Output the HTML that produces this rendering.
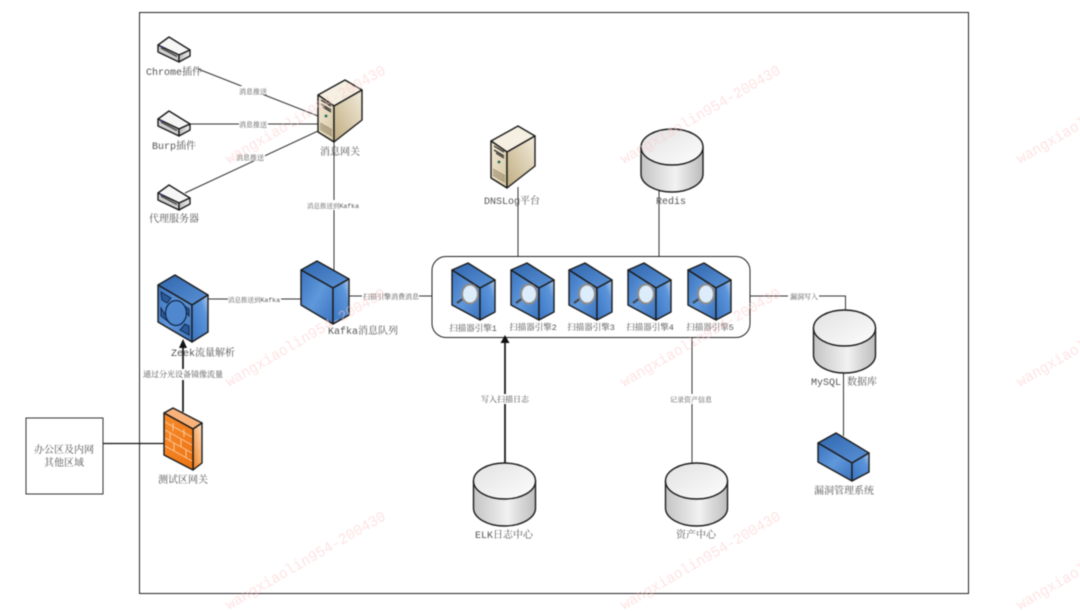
<!DOCTYPE html>
<html><head><meta charset="utf-8"><style>
html,body{margin:0;padding:0;background:#fff;width:1080px;height:611px;overflow:hidden}
svg{display:block;filter:blur(.45px)}
.l{font-family:"Liberation Mono","Noto Serif CJK SC",serif;fill:#555;text-anchor:middle}
.wm{font-family:"Liberation Mono",monospace;font-size:15px;fill:#ffc8c8;fill-opacity:.5}
.s{stroke:#1c1c1c;stroke-linejoin:round;stroke-width:1.4}
</style></head><body>
<svg width="1080" height="611" viewBox="0 0 1080 611" xmlns="http://www.w3.org/2000/svg">
<defs>
<linearGradient id="bf" x1="0" y1="0" x2="1" y2="1"><stop offset="0" stop-color="#3a72bd"/><stop offset=".5" stop-color="#6098dc"/><stop offset="1" stop-color="#3a72bd"/></linearGradient>
<linearGradient id="bt" x1="0" y1="0" x2="1" y2="1"><stop offset="0" stop-color="#2f66ae"/><stop offset="1" stop-color="#5b92d6"/></linearGradient>
<linearGradient id="br" x1="0" y1="1" x2="1" y2="0"><stop offset="0" stop-color="#3a75c2"/><stop offset=".7" stop-color="#5b94da"/><stop offset="1" stop-color="#b4d0f0"/></linearGradient>
<linearGradient id="tf" x1="0" y1="0" x2="1" y2="1"><stop offset="0" stop-color="#f3ead6"/><stop offset="1" stop-color="#d5c6a2"/></linearGradient>
<linearGradient id="tr" x1="0" y1="1" x2="1" y2="0"><stop offset="0" stop-color="#bfac80"/><stop offset="1" stop-color="#f3ecdc"/></linearGradient>
<linearGradient id="cy" x1="0" y1="0" x2="1" y2="0"><stop offset="0" stop-color="#c4c4c4"/><stop offset=".55" stop-color="#f2f2f2"/><stop offset="1" stop-color="#bcbcbc"/></linearGradient>
<linearGradient id="ct" x1="0" y1="0" x2="1" y2="1"><stop offset="0" stop-color="#e2e2e2"/><stop offset="1" stop-color="#fdfdfd"/></linearGradient>
<linearGradient id="of" x1="0" y1="0" x2="1" y2="1"><stop offset="0" stop-color="#f58a2c"/><stop offset="1" stop-color="#ef7412"/></linearGradient>
<linearGradient id="or" x1="0" y1="1" x2="1" y2="0"><stop offset="0" stop-color="#f07c1c"/><stop offset="1" stop-color="#fde2c6"/></linearGradient>
<linearGradient id="dv" x1="0" y1="0" x2="1" y2="0"><stop offset="0" stop-color="#bbb"/><stop offset="1" stop-color="#f0f0f0"/></linearGradient>

<g id="srv">
<path class="s" d="M0 15 L27 0 L44 10 L16 26Z" fill="#f6f0e2"/>
<path class="s" d="M0 15 L16 26 L16 62 L0 52Z" fill="url(#tf)"/>
<path class="s" d="M16 26 L44 10 L44 40 L16 62Z" fill="url(#tr)"/>
<path d="M3 20 L13 26 M3 24 L13 30 M5 27 L13 32" stroke="#222" stroke-width="1.2"/>
<circle cx="8" cy="36" r="1.4" fill="#1f6a55"/>
<path d="M2 43 L14 50 M2 45 L14 52 M2 47 L14 54 M2 49 L14 56" stroke="#6a5a3a" stroke-width=".7"/>
</g>

<g id="dev">
<path class="s" d="M0 8 L11 0 L32 13 L21 18Z" fill="#f6f6f6"/>
<path class="s" d="M0 8 L21 18 L21 25 L0 15Z" fill="#cfcfcf"/>
<path d="M3 11 L19 19.500" stroke="#444" stroke-width="1.4"/>
<path class="s" d="M21 18 L32 13 L32 19 L21 25Z" fill="url(#dv)"/>
<circle cx="3.500" cy="10" r="1" fill="#34349a"/>
</g>

<g id="scan">
<path class="s" d="M0 7 L16 0 L43 17 L28 25Z" fill="url(#bt)"/>
<path class="s" d="M0 7 L28 25 L28 57 L0 42Z" fill="url(#bf)"/>
<path class="s" d="M28 25 L43 17 L43 49 L28 57Z" fill="url(#br)"/>
<path d="M5 40 L12 35" stroke="#444" stroke-width="2"/>
<ellipse cx="18" cy="31" rx="8" ry="9.500" fill="#dcecfb" stroke="#8c8c8c" stroke-width="2"/>
</g>

<g id="cyl">
<path class="s" d="M0 18 V45 A31 18 0 0 0 62 45 V18Z" fill="url(#cy)"/>
<ellipse class="s" cx="31" cy="18" rx="31" ry="18" fill="url(#ct)"/>
</g>
</defs>

<rect x="139.500" y="12.500" width="829" height="581" fill="none" stroke="#222" stroke-width="1"/>

<!-- connectors -->
<g fill="none" stroke="#333" stroke-width="1">
<path d="M198 69 L318 116"/>
<path d="M190 124 H318"/>
<path d="M185 193 L318 131"/>
<path d="M334 142 V270"/>
<path d="M208 299 H301"/>
<path d="M349 296 H432"/>
<path d="M518 187 V256"/>
<path d="M659 190 V256"/>
<path d="M750 296 H845.500 V311"/>
<path d="M843.500 370 V436"/>
<path d="M692 337 V463"/>
</g>
<path d="M505 463 V343" stroke="#111" stroke-width="1.700"/>
<path d="M183 412 V346" stroke="#111" stroke-width="1.700"/>
<path d="M183 339 L187 348 L179 348Z" fill="#111"/>
<path d="M103 443.500 H165" stroke="#111" stroke-width="1.300"/>

<!-- connector labels -->
<g fill="#fff">
<rect x="239" y="86" width="29" height="9"/>
<rect x="239" y="119" width="29" height="9"/>
<rect x="236" y="152" width="29" height="9"/>
<rect x="306" y="200" width="55" height="10"/>
<rect x="228" y="294" width="53" height="10"/>
<rect x="362" y="291" width="57" height="10"/>
<rect x="788" y="291" width="31" height="10"/>
<rect x="481" y="394" width="49" height="10"/>
<rect x="669" y="394" width="43" height="10"/>
<rect x="142" y="369" width="81" height="11"/>
</g>

<rect x="432" y="256.500" width="318" height="81" rx="14" fill="#fff" stroke="#222" stroke-width="1"/>
<path d="M505 335 L509.500 343 L500.500 343Z" fill="#111"/>

<!-- icons -->
<use href="#dev" x="158" y="37"/>
<use href="#dev" x="158" y="111"/>
<use href="#dev" x="158" y="185"/>
<use href="#srv" x="318" y="80"/>
<use href="#srv" x="491" y="126"/>
<use href="#cyl" x="641" y="129"/>
<use href="#cyl" x="473.500" y="463"/>
<use href="#cyl" x="665.500" y="463"/>
<use href="#cyl" x="813.500" y="310"/>

<!-- Kafka -->
<path class="s" d="M301 270 L317 261 L349 279 L333 288Z" fill="url(#bt)"/>
<path class="s" d="M301 270 L333 288 V324 L301 305Z" fill="url(#bf)"/>
<path class="s" d="M333 288 L349 279 V315 L333 324Z" fill="url(#br)"/>

<!-- Zeek -->
<path class="s" d="M158 285 L175 275 L208 295 L192 305Z" fill="url(#bt)"/>
<path class="s" d="M158 285 L192 305 V342 L158 322Z" fill="url(#bf)"/>
<path class="s" d="M192 305 L208 295 V332 L192 342Z" fill="url(#br)"/>
<path d="M161 292 L171 298 L167 303 L162 300Z M180 303 L189 309 L189 316 L184 309Z M161 316 L161 308 L166 316 L170 323Z M189 335 L180 330 L185 324 L189 326Z" fill="#2a5a99" stroke="#14294a" stroke-width="1"/>
<ellipse cx="176" cy="313" rx="10.500" ry="12.500" fill="#4f88cf" stroke="#14294a" stroke-width="1.300"/>

<!-- Scanners -->
<use href="#scan" x="452" y="263"/>
<use href="#scan" x="511" y="263"/>
<use href="#scan" x="569" y="263"/>
<use href="#scan" x="628" y="263"/>
<use href="#scan" x="688" y="263"/>

<!-- Firewall -->
<path class="s" d="M164 413 L173 408 L202 423 L193 429Z" fill="#f9b27a"/>
<path class="s" d="M193 429 L202 423 V463 L193 470Z" fill="url(#or)"/>
<path class="s" d="M164 413 L193 429 V470 L164 455Z" fill="url(#of)"/>
<path d="M165 422 L192 437 M165 430 L192 445 M165 438 L192 453 M165 446 L192 461 M173 423 V431 M184 429 V437 M170 433 V441 M181 439 V447 M174 443 V451 M186 450 V458" stroke="#fbc89c" stroke-width="1" fill="none"/>

<!-- Small blue box -->
<path class="s" d="M818 443 L836 433 L869 453 L852 463Z" fill="url(#bt)"/>
<path class="s" d="M818 443 L852 463 V481 L818 462Z" fill="url(#bf)"/>
<path class="s" d="M852 463 L869 453 V472 L852 481Z" fill="url(#br)"/>

<!-- Left box -->
<rect x="26" y="418" width="77" height="76" fill="#fff" stroke="#333" stroke-width="1"/>

<!-- labels -->
<g class="l" font-size="10">
<text x="174" y="75">Chrome插件</text>
<text x="174" y="149">Burp插件</text>
<text x="174" y="222">代理服务器</text>
<text x="340" y="155">消息网关</text>
<text x="512" y="204">DNSLog平台</text>
<text x="671" y="204">Redis</text>
<text x="363" y="334">Kafka消息队列</text>
<text x="203" y="356">Zeek流量解析</text>
<text x="183" y="483">测试区网关</text>
<text x="64" y="453">办公区及内网</text>
<text x="64" y="466">其他区域</text>
<text x="844" y="385">MySQL 数据库</text>
<text x="844" y="494">漏洞管理系统</text>
<text x="504" y="538">ELK日志中心</text>
<text x="696" y="538">资产中心</text>
</g>
<g class="l" font-size="8.500">
<text x="473" y="331">扫描器引擎1</text>
<text x="533" y="330">扫描器引擎2</text>
<text x="591" y="330">扫描器引擎3</text>
<text x="650" y="330">扫描器引擎4</text>
<text x="710" y="330">扫描器引擎5</text>
</g>
<g class="l" font-size="8">
<text x="183" y="377">通过分光设备镜像流量</text>
<text x="505" y="402">写入扫描日志</text>
</g>
<g class="l" font-size="7">
<text x="691" y="402">记录资产信息</text>
<text x="391" y="299">扫描引擎消费消息</text>
<text x="253" y="94">消息推送</text>
<text x="253" y="127">消息推送</text>
<text x="250" y="160">消息推送</text>
<text x="804" y="299">漏洞写入</text>
</g>
<g class="l" font-size="6.500">
<text x="333" y="208">消息推送到Kafka</text>
<text x="254" y="302">消息推送到Kafka</text>
</g>

<!-- watermarks -->
<g class="wm">
<text transform="translate(229 164) rotate(-30)" textLength="182" lengthAdjust="spacingAndGlyphs">wangxiaolin954-200430</text>
<text transform="translate(624 164) rotate(-30)" textLength="182" lengthAdjust="spacingAndGlyphs">wangxiaolin954-200430</text>
<text transform="translate(1020 164) rotate(-30)" textLength="182" lengthAdjust="spacingAndGlyphs">wangxiaolin954-200430</text>
<text transform="translate(229 387) rotate(-30)" textLength="182" lengthAdjust="spacingAndGlyphs">wangxiaolin954-200430</text>
<text transform="translate(624 387) rotate(-30)" textLength="182" lengthAdjust="spacingAndGlyphs">wangxiaolin954-200430</text>
<text transform="translate(1020 387) rotate(-30)" textLength="182" lengthAdjust="spacingAndGlyphs">wangxiaolin954-200430</text>
<text transform="translate(229 610) rotate(-30)" textLength="182" lengthAdjust="spacingAndGlyphs">wangxiaolin954-200430</text>
<text transform="translate(624 610) rotate(-30)" textLength="182" lengthAdjust="spacingAndGlyphs">wangxiaolin954-200430</text>
<text transform="translate(1020 610) rotate(-30)" textLength="182" lengthAdjust="spacingAndGlyphs">wangxiaolin954-200430</text>
</g>
</svg>
</body></html>
